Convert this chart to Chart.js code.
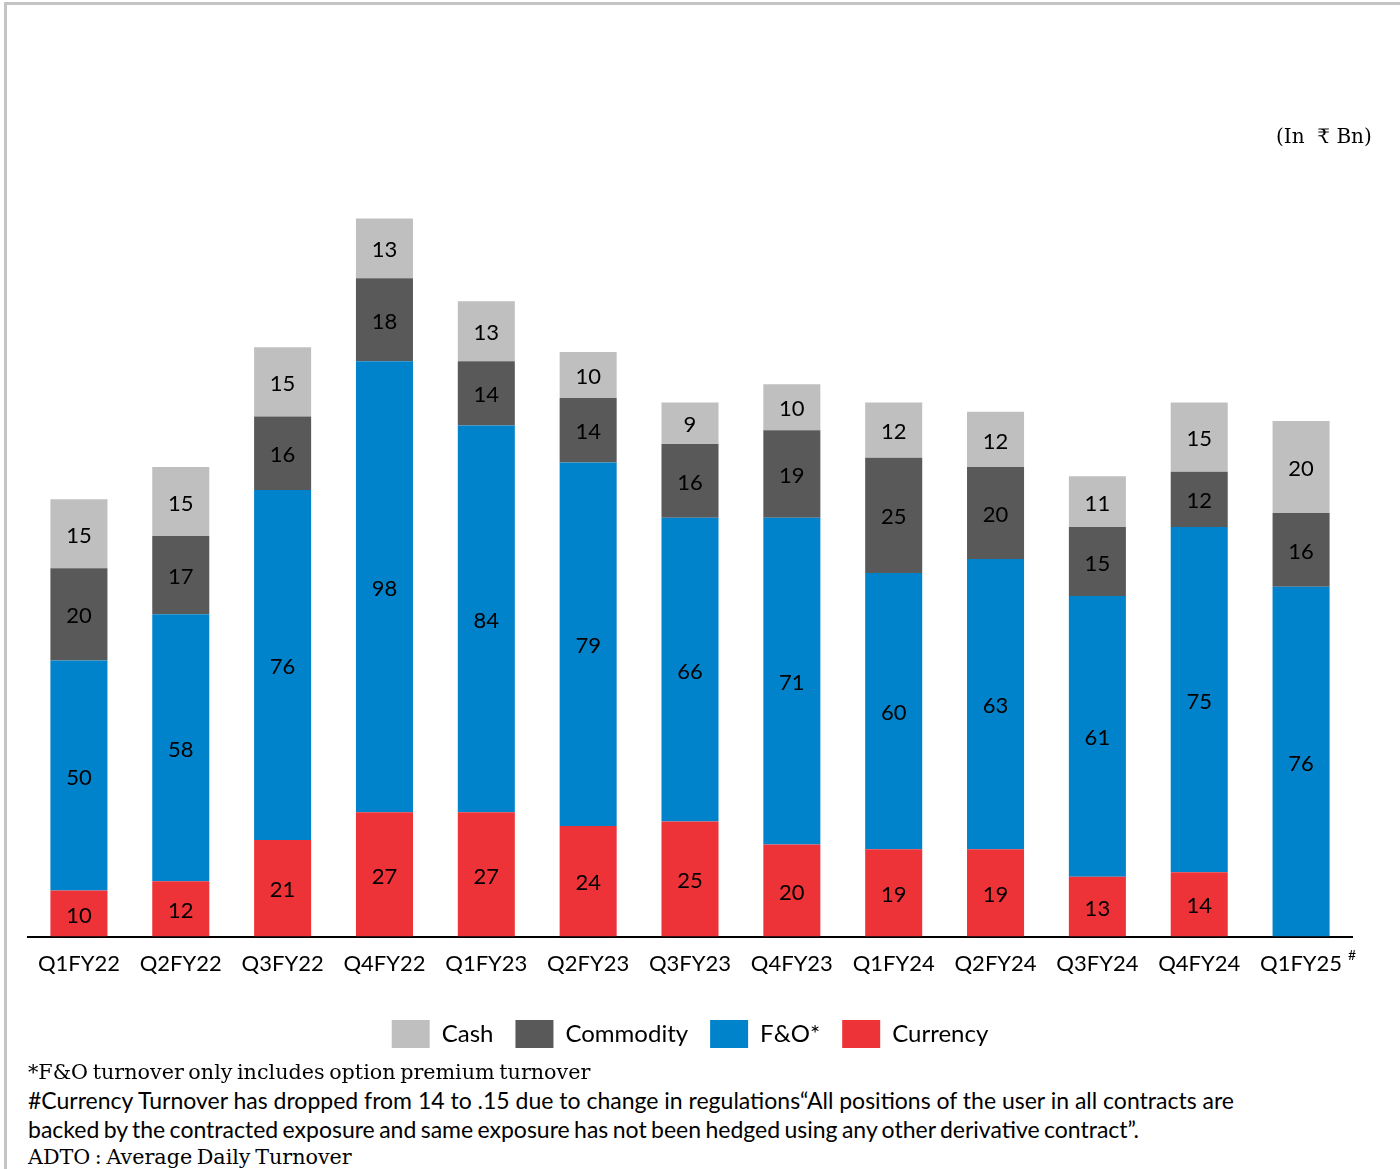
<!DOCTYPE html>
<html>
<head>
<meta charset="utf-8">
<script src="https://cdn.jsdelivr.net/npm/chart.js@4.4.1/dist/chart.umd.min.js"></script>
<style>
  html, body { margin: 0; padding: 0; background: #fff; }
  body { width: 1400px; height: 1169px; position: relative; overflow: hidden; }
  #frame { position: absolute; left: 4px; top: 2px; width: 1400px; height: 1200px;
           border-left: 3px solid #c4c4c4; border-top: 3px solid #c4c4c4; }
  #wrap { position: absolute; left: 0; top: 0; width: 1400px; height: 1062px; }
  .note { position: absolute; left: 28px; white-space: nowrap; color: #000; }
  .serif { font-family: "DejaVu Serif", "Liberation Serif", serif; font-size: 20.7px; word-spacing: -2px; }
  .sans { font-family: Lato, "Open Sans", sans-serif; font-size: 23px; }
  #unit { position: absolute; left: 1276px; top: 124px; font-family: "DejaVu Serif", "Liberation Serif", serif; font-size: 20px; white-space: nowrap; }
</style>
</head>
<body>
<div id="frame"></div>
<div id="wrap"><canvas id="c" width="1400" height="1062"></canvas></div>
<div id="unit">(In&nbsp; ₹ Bn)</div>
<div class="note serif" style="top:1060px;">*F&amp;O turnover only includes option premium turnover</div>
<div class="note sans" style="top:1086px;">#Currency Turnover has dropped from 14 to .15 due to change in regulations“All positions of the user in all contracts are</div>
<div class="note sans" style="top:1115px; word-spacing:-1.5px;">backed by the contracted exposure and same exposure has not been hedged using any other derivative contract”.</div>
<div class="note serif" style="top:1145px;">ADTO : Average Daily Turnover</div>
<script>
const categories = ["Q1FY22","Q2FY22","Q3FY22","Q4FY22","Q1FY23","Q2FY23","Q3FY23","Q4FY23","Q1FY24","Q2FY24","Q3FY24","Q4FY24","Q1FY25"];
const currency  = [10, 12, 21, 27, 27, 24, 25, 20, 19, 19, 13, 14, 0];
const fno       = [50, 58, 76, 98, 84, 79, 66, 71, 60, 63, 61, 75, 76];
const commodity = [20, 17, 16, 18, 14, 14, 16, 19, 25, 20, 15, 12, 16];
const cash      = [15, 15, 15, 13, 13, 10, 9, 10, 12, 12, 11, 15, 20];
const superscriptMark = "#";

const labelFont = { family: "Lato, 'Open Sans', sans-serif", size: 22 };

const valueLabels = {
  id: "valueLabels",
  afterDatasetsDraw(chart) {
    const ctx = chart.ctx;
    ctx.save();
    ctx.font = "22px Lato, 'Open Sans', sans-serif";
    ctx.fillStyle = "#000";
    ctx.textAlign = "center";
    ctx.textBaseline = "middle";
    chart.data.datasets.forEach((ds, di) => {
      const meta = chart.getDatasetMeta(di);
      meta.data.forEach((bar, i) => {
        const v = ds.data[i];
        if (!v) return;
        ctx.fillText(String(v), bar.x, (bar.y + bar.base) / 2 + 2);
      });
    });
    ctx.restore();
  }
};

const supMark = {
  id: "supMark",
  afterDraw(chart) {
    const xs = chart.scales.x;
    const last = categories.length - 1;
    const ctx = chart.ctx;
    ctx.save();
    ctx.font = "22px Lato, 'Open Sans', sans-serif";
    const w = ctx.measureText(categories[last]).width;
    const x = xs.getPixelForValue(last) + w / 2 + 6;
    ctx.font = "14px Lato, 'Open Sans', sans-serif";
    ctx.fillStyle = "#000";
    ctx.textAlign = "left";
    ctx.textBaseline = "middle";
    ctx.fillText(superscriptMark, x, xs.top + 19);
    ctx.restore();
  }
};

new Chart(document.getElementById("c"), {
  type: "bar",
  data: {
    labels: categories,
    datasets: [
      { label: "Currency", data: currency, backgroundColor: "#EE3338" },
      { label: "F&O*", data: fno, backgroundColor: "#0083CA" },
      { label: "Commodity", data: commodity, backgroundColor: "#595959" },
      { label: "Cash", data: cash, backgroundColor: "#BFBFBF" }
    ].map(d => Object.assign(d, { borderWidth: 0, barPercentage: 0.56, categoryPercentage: 1 }))
  },
  options: {
    responsive: false,
    animation: false,
    devicePixelRatio: 1,
    layout: { padding: { top: 154, left: 28, right: 48, bottom: 4 } },
    plugins: {
      tooltip: { enabled: false },
      legend: {
        position: "bottom",
        reverse: true,
        labels: {
          boxWidth: 38, boxHeight: 28, padding: 22, color: "#000",
          font: { family: "Lato, 'Open Sans', sans-serif", size: 24 }
        }
      }
    },
    scales: {
      x: {
        stacked: true,
        grid: { display: false, drawTicks: false },
        border: { display: true, color: "#000", width: 2 },
        ticks: { color: "#000", font: labelFont, padding: 14, maxRotation: 0, autoSkip: false },
        afterFit(scale) { scale.height += 7; }
      },
      y: {
        stacked: true, display: false, min: 0, max: 170
      }
    }
  },
  plugins: [valueLabels, supMark]
});
</script>
</body>
</html>
